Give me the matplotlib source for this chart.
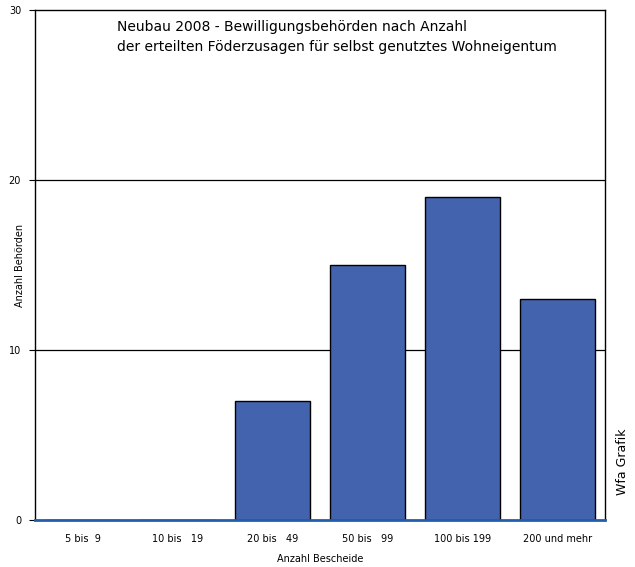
import matplotlib
matplotlib.use("Agg")
import matplotlib.pyplot as plt

categories = ["5 bis  9", "10 bis   19", "20 bis   49", "50 bis   99", "100 bis 199", "200 und mehr"]
values = [0, 0, 7, 15, 19, 13]
yticks = [0, 10, 20, 30]

plt.rcParams['font.family'] = ['DejaVu Sans']
fig = plt.figure(figsize=(6.35, 5.67), dpi=100)
ax = fig.add_axes([35/635, 47/567, 570/635, 510/567])

x = list(range(len(categories)))
ax.bar(x, values, width=0.78, color="#4363AE", edgecolor="black", linewidth=1.0, zorder=3)
ax.set_xlim(-0.5, len(categories) - 0.5)
ax.set_ylim(0, 30)
ax.set_yticks(yticks)
ax.set_yticklabels([str(t) for t in yticks], fontsize=7)
ax.set_xticks(x)
ax.set_xticklabels(categories, fontsize=7)
ax.tick_params(axis='x', length=0, pad=10)
ax.tick_params(axis='y', length=4, direction='out', pad=6)
for t in [10, 20]:
    ax.axhline(t, color="black", linewidth=0.9, zorder=1)
ax.axhline(0, color="#1f5fae", linewidth=2, zorder=4, clip_on=False)
for s in ['left', 'top', 'right']:
    ax.spines[s].set_color('black')
    ax.spines[s].set_linewidth(1.0)
ax.spines['bottom'].set_visible(False)
ax.set_xlabel("Anzahl Bescheide", fontsize=7, labelpad=7)
fig.text(20/635, 1 - 265/567, "Anzahl Behörden", rotation=90, fontsize=7, ha='center', va='center')
ax.text((117-35)/570, 1 - (20-10)/510, "Neubau 2008 - Bewilligungsbehörden nach Anzahl\nder erteilten Föderzusagen für selbst genutztes Wohneigentum",
        transform=ax.transAxes, fontsize=10, va='top', ha='left', linespacing=1.5)
fig.text(622/635, 1 - 462/567, "Wfa Grafik", rotation=90, fontsize=9, ha='center', va='center')
fig.savefig("out.png", dpi=100)
